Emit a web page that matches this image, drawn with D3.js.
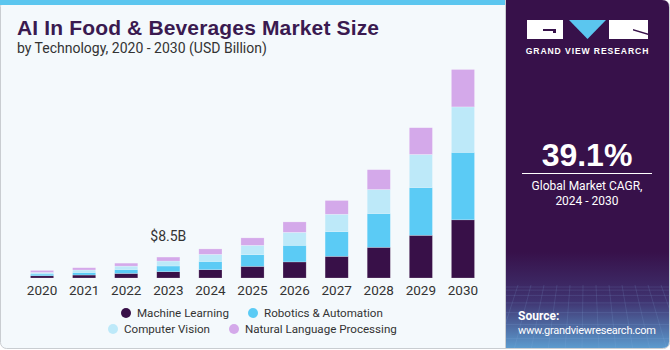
<!DOCTYPE html>
<html lang="en">
<head>
<meta charset="UTF-8">
<title>AI In Food & Beverages Market Size</title>
<script src="https://cdn.jsdelivr.net/npm/d3@7"></script>
<style>
  body { margin: 0; background: #fff; }
  svg { display: block; font-family: Roboto, "Liberation Sans", Arial, sans-serif; }
</style>
</head>
<body>
<script>
  var years = ["2020", "2021", "2022", "2023", "2024", "2025", "2026", "2027", "2028", "2029", "2030"];
  var seriesNames = ["Machine Learning", "Robotics & Automation", "Computer Vision", "Natural Language Processing"];
  var machineLearning = [0.9, 1.2, 1.85, 2.55, 3.35, 4.7, 6.5, 8.75, 12.4, 17.25, 23.5];
  var robotics = [0.7, 1.05, 1.6, 2.3, 3.35, 4.75, 6.7, 10.0, 13.65, 19.3, 27.25];
  var computerVision = [0.65, 0.97, 1.35, 2.0, 2.85, 3.75, 5.25, 7.0, 9.7, 13.35, 18.35];
  var nlp = [0.8, 0.93, 1.2, 1.6, 2.2, 3.0, 4.2, 5.55, 8.0, 10.8, 15.1];
  var colors = ["#381048", "#5bcbf5", "#bde9f9", "#d4a9ea"];
  var callout = {year: "2023", label: "$8.5B"};

  var W = 670, H = 350;
  var baseY = 278;

  var svg = d3.select("body").append("svg")
    .attr("width", W)
    .attr("height", H);

  // card background
  svg.append("rect")
    .attr("x", 0.5).attr("y", 0.5)
    .attr("width", W - 1).attr("height", H - 2)
    .attr("rx", 6)
    .attr("fill", "#f4f9fc")
    .attr("stroke", "#c9cdd1");

  // top accent bar
  svg.append("rect")
    .attr("x", 0).attr("y", 0)
    .attr("width", 506).attr("height", 5)
    .attr("fill", "#5bc6ef");

  // title
  svg.append("text")
    .attr("x", 17).attr("y", 35)
    .attr("font-size", 21)
    .attr("font-weight", "bold")
    .attr("fill", "#3a1a50")
    .style("font-family", "Liberation Sans, Arial, sans-serif")
    .attr("textLength", 362)
    .text("AI In Food & Beverages Market Size");

  svg.append("text")
    .attr("x", 17).attr("y", 53)
    .attr("font-size", 14)
    .attr("fill", "#333")
    .text("by Technology, 2020 - 2030 (USD Billion)");

  // data table
  var table = years.map(function(y, i) {
    return {
      year: y,
      "Machine Learning": machineLearning[i],
      "Robotics & Automation": robotics[i],
      "Computer Vision": computerVision[i],
      "Natural Language Processing": nlp[i]
    };
  });

  var stack = d3.stack().keys(seriesNames);
  var layers = stack(table);

  var x = d3.scaleBand()
    .domain(years)
    .range([21, 484])
    .paddingInner(0.45)
    .paddingOuter(0.225);

  var y = d3.scaleLinear()
    .domain([0, 84])
    .range([baseY, 70]);

  var color = d3.scaleOrdinal().domain(seriesNames).range(colors);

  svg.append("g")
    .selectAll("g")
    .data(layers)
    .enter()
    .append("g")
    .attr("fill", function(d) { return color(d.key); })
    .selectAll("rect")
    .data(function(d) { return d; })
    .enter()
    .append("rect")
    .attr("x", function(d) { return x(d.data.year); })
    .attr("width", x.bandwidth())
    .attr("y", function(d) { return y(d[1]); })
    .attr("height", function(d) { return y(d[0]) - y(d[1]); })
    .attr("stroke", "rgba(255,255,255,0.35)")
    .attr("stroke-width", 0.6);

  // x axis
  var xaxis = d3.axisBottom(x).tickSize(0).tickPadding(7);
  var gx = svg.append("g")
    .attr("transform", "translate(0," + baseY + ")")
    .call(xaxis);
  gx.select(".domain").remove();
  gx.selectAll("text")
    .attr("font-size", 13.5)
    .attr("fill", "#333")
    .style("font-family", "Roboto, Liberation Sans, Arial, sans-serif");

  // callout label
  var ci = years.indexOf(callout.year);
  var total = machineLearning[ci] + robotics[ci] + computerVision[ci] + nlp[ci];
  svg.append("text")
    .attr("x", x(callout.year) + x.bandwidth() / 2)
    .attr("y", y(total) - 16)
    .attr("text-anchor", "middle")
    .attr("font-size", 14)
    .attr("fill", "#333")
    .text(callout.label);

  // legend
  var legendPos = [
    {cx: 126, cy: 313, tx: 137},
    {cx: 253, cy: 313, tx: 264},
    {cx: 113, cy: 329, tx: 124},
    {cx: 234, cy: 329, tx: 245}
  ];
  var lg = svg.append("g")
    .selectAll("g")
    .data(seriesNames)
    .enter()
    .append("g");
  lg.append("circle")
    .attr("cx", function(d, i) { return legendPos[i].cx; })
    .attr("cy", function(d, i) { return legendPos[i].cy; })
    .attr("r", 5)
    .attr("fill", function(d) { return color(d); });
  lg.append("text")
    .attr("x", function(d, i) { return legendPos[i].tx; })
    .attr("y", function(d, i) { return legendPos[i].cy + 4.2; })
    .attr("font-size", 11.6)
    .attr("fill", "#333")
    .text(function(d) { return d; });

  // right panel
  var defs = svg.append("defs");
  var grad = defs.append("linearGradient")
    .attr("id", "panelGrad")
    .attr("x1", 0).attr("y1", 0).attr("x2", 0).attr("y2", 1);
  grad.append("stop").attr("offset", "0%").attr("stop-color", "#37114a");
  grad.append("stop").attr("offset", "72%").attr("stop-color", "#37114a");
  grad.append("stop").attr("offset", "86%").attr("stop-color", "#3f3370");
  grad.append("stop").attr("offset", "100%").attr("stop-color", "#5d9fd2");

  var clip = defs.append("clipPath").attr("id", "panelClip");
  clip.append("path")
    .attr("d", "M505,0 H662 Q669,0 669,7 V342 Q669,348 662,348 H505 Z");

  var panel = svg.append("g").attr("clip-path", "url(#panelClip)");
  panel.append("rect")
    .attr("x", 505).attr("y", 0)
    .attr("width", 165).attr("height", 350)
    .attr("fill", "url(#panelGrad)");

  // faint grid at bottom of panel
  var gridG = panel.append("g")
    .attr("stroke", "#8fb8e6")
    .attr("stroke-opacity", 0.25)
    .attr("stroke-width", 0.6);
  d3.range(0, 14).forEach(function(k) {
    gridG.append("line")
      .attr("x1", 505 + k * 13).attr("y1", 285)
      .attr("x2", 480 + k * 17).attr("y2", 350);
  });
  d3.range(0, 8).forEach(function(k) {
    gridG.append("line")
      .attr("x1", 505).attr("y1", 287 + k * k * 1.1 + k * 2)
      .attr("x2", 670).attr("y2", 287 + k * k * 1.1 + k * 2);
  });

  svg.append("line")
    .attr("x1", 505.5).attr("x2", 505.5)
    .attr("y1", 0).attr("y2", 348)
    .attr("stroke", "#c9cdd1");

  // logo
  var logo = svg.append("g");
  logo.append("rect").attr("x", 527).attr("y", 20).attr("width", 36).attr("height", 19).attr("fill", "#fff");
  logo.append("path").attr("d", "M543,29 H556 V33 H553 V31 H543 Z").attr("fill", "#37114a");
  logo.append("path").attr("d", "M569,20 H606 L587.5,39 Z").attr("fill", "#5bc6ef");
  logo.append("rect").attr("x", 609).attr("y", 20).attr("width", 39).attr("height", 19).attr("fill", "#fff");
  logo.append("path").attr("d", "M633,29 L648,33.5 L648,35 L633,30.5 Z").attr("fill", "#37114a");
  logo.append("text")
    .attr("x", 587.5).attr("y", 54)
    .attr("text-anchor", "middle")
    .attr("font-size", 8.6)
    .attr("font-weight", "bold")
    .attr("letter-spacing", 0.9)
    .attr("fill", "#fff")
    .style("font-family", "Liberation Sans, Arial, sans-serif")
    .text("GRAND VIEW RESEARCH");

  svg.append("text")
    .attr("x", 587).attr("y", 166)
    .attr("text-anchor", "middle")
    .attr("font-size", 32)
    .attr("font-weight", "bold")
    .attr("fill", "#fff")
    .style("font-family", "Liberation Sans, Arial, sans-serif")
    .text("39.1%");

  svg.append("line")
    .attr("x1", 522).attr("x2", 652)
    .attr("y1", 173.5).attr("y2", 173.5)
    .attr("stroke", "#fff")
    .attr("stroke-width", 1);

  svg.append("text")
    .attr("x", 587).attr("y", 190)
    .attr("text-anchor", "middle")
    .attr("font-size", 12)
    .attr("fill", "#fff")
    .text("Global Market CAGR,");
  svg.append("text")
    .attr("x", 587).attr("y", 205)
    .attr("text-anchor", "middle")
    .attr("font-size", 12)
    .attr("fill", "#fff")
    .text("2024 - 2030");

  svg.append("text")
    .attr("x", 518).attr("y", 320)
    .attr("font-size", 12)
    .attr("font-weight", "bold")
    .attr("fill", "#fff")
    .text("Source:");
  svg.append("text")
    .attr("x", 518).attr("y", 334)
    .attr("font-size", 11)
    .attr("fill", "#fff")
    .attr("textLength", 138)
    .text("www.grandviewresearch.com");
</script>
</body>
</html>
